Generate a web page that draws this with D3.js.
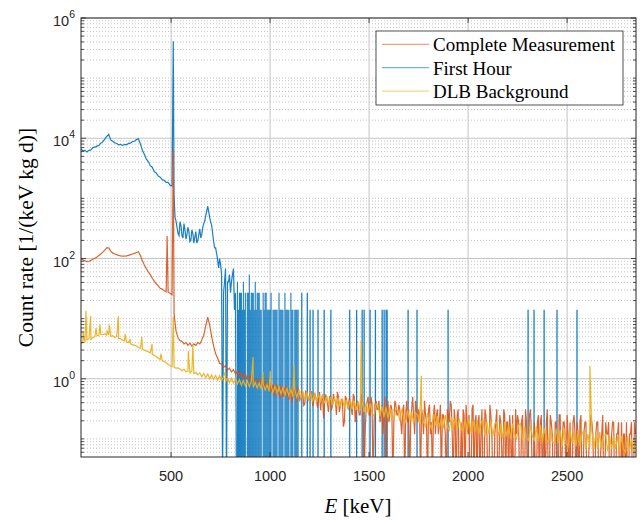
<!DOCTYPE html>
<html>
<head>
<meta charset="utf-8">
<script src="https://cdn.jsdelivr.net/npm/d3@7"></script>
<style>
  body { margin: 0; background: #fff; }
  svg { display: block; }
</style>
</head>
<body>
<svg width="640" height="520"></svg>
<script>
// Continuum values sit on 10 keV grids
const gridStep = 10;

// Complete Measurement, rate per bin, 45 .. 2845 keV
const completeStart = 45;
const completeRate = [
  98, 95, 92, 89, 90, 93, 97, 101, 106, 112,
  119, 128, 138, 150, 150, 133, 124, 119, 116, 113,
  111, 110, 110, 111, 113, 116, 119, 122, 126, 130,
  112, 92, 78, 68, 60, 54, 47, 42, 38, 35,
  32, 31, 29, 28, 27.5, 26.5, 25, 12, 6.2, 4.8,
  4.3, 4.2, 3.8, 4.0, 3.6, 3.9, 3.5, 3.8, 3.6, 4.0,
  3.8, 4.4, 5.3, 7.6, 10.6, 7.8, 5.0, 3.5, 2.6, 2.2,
  1.8, 1.75, 1.55, 1.65, 1.4, 1.5, 1.3, 1.42, 1.2, 1.35,
  1.1, 1.25, 1.0, 1.2, 0.95, 1.1, 0.9, 1.05, 0.85, 1.0,
  0.8, 0.95, 0.72, 0.9, 0.7, 0.85, 0.62, 0.8, 0.6, 0.78,
  0.55, 0.75, 0.5, 0.7, 0.58, 0.45, 0.72, 0.5, 0.62, 0.42,
  0.65, 0.48, 0.58, 0.38, 0.6, 0.45, 0.55, 0.35, 0.58, 0.42,
  0.5, 0.3, 0.55, 0.4, 0.48, 0.28, 0.52, 0.36, 0.45, 0.25,
  0.5, 0.35, 0.43, 0.19, 0.47, 0.31, 0.43, 0.25, 0.5, 0.31,
  0.37, 0.25, 0.43, 0, 0.31, 0.5, 0.25, 0.37, 0.19, 0.43,
  0.31, 0.19, 0.37, 0.25, 0, 0.43, 0.25, 0.31, 0.19, 0.37,
  0.25, 0.31, 0.12, 0.37, 0.25, 0.19, 0, 0.31, 0.25, 0.43,
  0.19, 0.25, 0.31, 0.12, 0.25, 0, 0.37, 0.19, 0.25, 0.12,
  0.31, 0.19, 0, 0.25, 0.12, 0.31, 0.19, 0.37, 0, 0.19,
  0.25, 0, 0.19, 0.31, 0, 0.19, 0.25, 0, 0.37, 0.19,
  0, 0.25, 0.12, 0, 0.31, 0.12, 0, 0.25, 0, 0.12,
  0.31, 0, 0.19, 0, 0.25, 0.19, 0, 0.12, 0.25, 0,
  0.12, 0.19, 0, 0.25, 0, 0.19, 0.062, 0.31, 0, 0.19,
  0, 0.25, 0.19, 0, 0.12, 0.19, 0, 0.25, 0.12, 0,
  0.19, 0, 0.25, 0.062, 0.19, 0, 0.12, 0.19, 0, 0.25,
  0, 0.12, 0.19, 0, 0.12, 0.19, 0, 0.12, 0.19, 0,
  0.12, 0.19, 0, 0.12, 0, 0.19, 0.12, 0, 0.12, 0.19,
  0, 0.12, 0, 0.19, 0.12, 0, 0, 0.12, 0.19, 0, 0.12
];
// Complete Measurement, bins in between, 1010 .. 2840 keV
const completeFineStart = 1010;
const completeFineRate = [
  0.68, 0.52, 0.8, 0.6, 0.47, 0.7, 0.55, 0.75, 0.5, 0.62,
  0.4, 0.66, 0.52, 0.7, 0.44, 0.6, 0.36, 0.62, 0.48, 0.55,
  0.62, 0.4, 0.5, 0.33, 0.6, 0.45, 0.22, 0.55, 0.38, 0.5,
  0.3, 0.56, 0.42, 0.6, 0.28, 0.45, 0.16, 0.52, 0.37, 0.48,
  0.31, 0.56, 0.19, 0.43,
  0.25, 0.56, 0.31, 0.12, 0.43, 0.25, 0.5, 0, 0.37, 0.31,
  0.43, 0.25, 0.12, 0.5, 0.31, 0.19, 0.37, 0, 0.43, 0.25,
  0.37, 0.19, 0.31, 0, 0.43, 0.31, 0.19, 0.5, 0.12, 0.31,
  0.31, 0, 0.25, 0.43, 0.19, 0.31, 0.12, 0, 0.37, 0.25,
  0.12, 0.37, 0.25, 0.19, 0, 0.25, 0.43, 0.12, 0.31, 0,
  0.31, 0, 0, 0.25, 0.37, 0.12, 0, 0.31, 0, 0.25,
  0.19, 0, 0.31, 0, 0.25, 0, 0.37, 0.12, 0, 0.19,
  0, 0.25, 0.062, 0.31, 0, 0.19, 0.25, 0, 0, 0.31,
  0.25, 0, 0.19, 0, 0.31, 0, 0.25, 0.12, 0, 0,
  0.19, 0, 0.25, 0.12, 0, 0.31, 0, 0.19, 0, 0.19,
  0, 0.25, 0, 0.19, 0.12, 0.25, 0, 0, 0.19, 0.12,
  0.19, 0, 0.25, 0, 0.19, 0, 0.062, 0.25, 0.12, 0,
  0.19, 0, 0.062, 0.25, 0, 0.12, 0.19, 0, 0.19, 0,
  0.12, 0.19, 0, 0, 0.12, 0.19, 0, 0.12, 0, 0.19
];
const completeLineE = [480, 511];
const completeLineV = [236, 6300];

// First Hour, rate per bin, 45 .. 1135 keV
const firstHourStart = 45;
const firstHourRate = [
  6600, 6200, 6300, 5900, 6300, 6400, 7000, 7100, 7400, 7600,
  8300, 8700, 9700, 10700, 11600, 9400, 8900, 8400, 8200, 7800,
  7900, 7600, 7900, 7800, 8200, 8300, 8800, 8900, 9500, 9800,
  8100, 6300, 5400, 4500, 4100, 3500, 3300, 2800, 2650, 2350,
  2250, 2050, 2000, 1850, 1850, 1650, 1600, 1100, 420, 260,
  410, 240, 380, 210, 330, 190, 300, 180, 280, 200,
  310, 250, 380, 520, 740, 480, 360, 190, 150, 95,
  100, 54, 27, 68, 41, 54, 41, 68, 27, 41,
  27, 27, 41, 27, 27, 54, 27, 27, 41, 27,
  27, 14, 27, 27, 14, 14, 27, 14, 14, 14,
  27, 14, 14, 27, 14, 14, 27, 14, 14, 14
];
// First Hour, bins in between, 520 .. 1130 keV
const firstHourFineStart = 520;
const firstHourFineRate = [
  480, 330, 240, 350, 220, 300, 250, 280, 200, 260,
  230, 180, 250, 220, 330, 420, 620, 600, 400, 260,
  150, 120, 70, 80, 0, 41, 0, 41, 27, 54,
  14, 0, 14, 27, 14, 14, 0, 27, 14, 27,
  14, 14, 27, 14, 0, 14, 27, 14, 14, 0,
  14, 14, 0, 14, 14, 0, 14, 14, 0, 14,
  0, 14
];
const firstHourLineE = [511];
const firstHourLineV = [410000];
// First Hour single counts above 1130 keV
const firstHourTailE = [
  1141, 1160, 1188, 1202, 1217, 1242, 1273, 1307, 1402, 1437, 1465, 1475, 1505,
  1532, 1566, 1576, 1586, 1591, 1697, 1742, 1899, 2303, 2333, 2384, 2449, 2550
];
const firstHourTailV = [
  14, 27, 27, 14, 14, 14, 14, 14, 14, 14, 14, 14, 14,
  14, 14, 14, 14, 14, 14, 14, 14, 14, 14, 14, 14, 14
];

// DLB Background, rate per bin, 45 .. 2845 keV
const dlbStart = 45;
const dlbRate = [
  3.8, 4.2, 4.0, 4.4, 4.6, 4.5, 4.9, 5.0, 5.3, 5.2,
  5.5, 5.4, 5.6, 5.3, 5.4, 5.1, 5.2, 4.9, 5.0, 4.7,
  4.6, 4.4, 4.3, 4.1, 4.0, 3.8, 3.7, 3.6, 3.5, 3.3,
  3.2, 3.1, 3.0, 2.9, 2.8, 2.7, 2.55, 2.45, 2.35, 2.2,
  2.1, 2.0, 1.95, 1.85, 1.75, 1.65, 1.6, 1.55, 1.5, 1.52,
  1.45, 1.36, 1.44, 1.31, 1.34, 1.25, 1.33, 1.22, 1.28, 1.16,
  1.25, 1.08, 1.22, 1.04, 1.2, 1.0, 1.15, 0.98, 1.14, 0.95,
  1.12, 0.93, 1.1, 0.88, 1.05, 0.86, 1.02, 0.84, 0.98, 0.82,
  0.97, 0.78, 0.94, 0.76, 0.92, 0.74, 0.9, 0.72, 0.87, 0.7,
  0.85, 0.67, 0.82, 0.65, 0.8, 0.62, 0.77, 0.6, 0.75, 0.58,
  0.73, 0.56, 0.71, 0.54, 0.69, 0.52, 0.67, 0.5, 0.65, 0.49,
  0.63, 0.47, 0.61, 0.46, 0.6, 0.44, 0.58, 0.43, 0.56, 0.42,
  0.55, 0.4, 0.53, 0.39, 0.52, 0.38, 0.5, 0.36, 0.49, 0.35,
  0.48, 0.34, 0.47, 0.33, 0.45, 0.32, 0.44, 0.31, 0.43, 0.3,
  0.42, 0.29, 0.41, 0.28, 0.4, 0.27, 0.39, 0.27, 0.24, 0.38,
  0.36, 0.24, 0.35, 0.23, 0.34, 0.22, 0.33, 0.26, 0.21, 0.32,
  0.3, 0.2, 0.31, 0.22, 0.19, 0.3, 0.2, 0.28, 0.18, 0.27,
  0.25, 0.18, 0.28, 0.19, 0.16, 0.27, 0.18, 0.15, 0.26, 0.17,
  0.24, 0.15, 0.23, 0.15, 0.25, 0.16, 0.14, 0.23, 0.15, 0.22,
  0.14, 0.22, 0.15, 0.13, 0.21, 0.14, 0.22, 0.12, 0.2, 0.13,
  0.2, 0.12, 0.18, 0.21, 0.11, 0.19, 0.12, 0.2, 0.11, 0.18,
  0.19, 0.11, 0.18, 0.1, 0.19, 0.11, 0.17, 0.1, 0.18, 0.12,
  0.1, 0.17, 0.18, 0.095, 0.16, 0.1, 0.095, 0.17, 0.11, 0.095,
  0.16, 0.09, 0.17, 0.085, 0.15, 0.1, 0.085, 0.16, 0.09, 0.085,
  0.15, 0.085, 0.14, 0.075, 0.15, 0.085, 0.075, 0.14, 0.085, 0.13,
  0.075, 0.14, 0.075, 0.12, 0.14, 0.068, 0.12, 0.075, 0.13, 0.068,
  0.12, 0.068, 0.13, 0.068, 0.11, 0.12, 0.062, 0.11, 0.068, 0.11,
  0.068, 0.11, 0.06, 0.11, 0.068, 0.06, 0.11, 0.062, 0.1, 0.06, 0.095
];
// DLB Background gamma lines
const dlbLineE = [55, 70, 94, 121, 141, 177, 188, 234, 268, 293, 352, 404, 449,
  511, 587, 610, 773, 914, 964, 1001, 1120, 1460, 1764, 2615];
const dlbLineV = [6.0, 13.5, 11, 7, 8, 6.2, 8, 11, 5.6, 4.6, 5, 3.8, 2.6,
  10.8, 2.9, 3.7, 1.3, 2.3, 1.3, 1.35, 1.65, 4.4, 1.12, 1.64];

const xTicks = [500, 1000, 1500, 2000, 2500];
const yTicks = [1, 1e2, 1e4, 1e6];
const seriesNames = ['Complete Measurement', 'First Hour', 'DLB Background'];
const seriesColors = ['#D95319', '#0072BD', '#EDB120'];

const svg = d3.select('svg');
const margin = {top: 18, right: 4, bottom: 63, left: 81};
const width = +svg.attr('width') - margin.left - margin.right;
const height = +svg.attr('height') - margin.top - margin.bottom;

const x = d3.scaleLinear().domain([45, 2848]).range([0, width]);
const y = d3.scaleLog().domain([0.05, 1e6]).range([height, 0]);

const chart = svg.append('g')
    .attr('transform', `translate(${margin.left},${margin.top})`);

// Grid: dotted minor lines, solid major lines
const isMajor = v => yTicks.some(t => Math.abs(v - t) / t < 1e-6);
const allY = y.ticks().filter(v => v > 0.05 * 1.001);
const minorY = allY.filter(v => !isMajor(v));

chart.append('g').selectAll('line').data(minorY)
  .join('line')
    .attr('x1', 0).attr('x2', width)
    .attr('y1', d => y(d)).attr('y2', d => y(d))
    .attr('stroke', '#ababab')
    .attr('stroke-width', 0.7)
    .attr('stroke-dasharray', '1,2');

chart.append('g').selectAll('line').data(yTicks)
  .join('line')
    .attr('x1', 0).attr('x2', width)
    .attr('y1', d => y(d)).attr('y2', d => y(d))
    .attr('stroke', '#c4c4c4')
    .attr('stroke-width', 1);

chart.append('g').selectAll('line').data(xTicks)
  .join('line')
    .attr('x1', d => x(d)).attr('x2', d => x(d))
    .attr('y1', 0).attr('y2', height)
    .attr('stroke', '#c4c4c4')
    .attr('stroke-width', 1);

// Series
svg.append('defs').append('clipPath').attr('id', 'plot-clip')
  .append('rect').attr('width', width).attr('height', height);

const toPoints = (segments, lineE, lineV) => segments
  .flatMap(([start, rates]) => rates.map((v, i) => ({e: start + i * gridStep, v})))
  .concat(lineE.map((e, i) => ({e, v: lineV[i]})))
  .sort((a, b) => a.e - b.e);

// Zero counts fall below the log axis
const floorY = height + 30;
const yPos = v => v > 0 ? y(v) : floorY;

const line = d3.line()
  .x(d => x(d.e))
  .y(d => yPos(d.v));

const plot = chart.append('g').attr('clip-path', 'url(#plot-clip)');

// First Hour: line up to 830 keV, then single-bin stems (empty bins in between)
const stemFrom = 835;
const firstHour = toPoints([[firstHourStart, firstHourRate], [firstHourFineStart, firstHourFineRate]],
  firstHourLineE, firstHourLineV);
const firstHourStems = firstHour.filter(d => d.e >= stemFrom)
  .concat(firstHourTailE.map((e, i) => ({e, v: firstHourTailV[i]})))
  .filter(d => d.v > 0);

plot.append('path')
    .datum(firstHour.filter(d => d.e < stemFrom))
    .attr('d', line)
    .attr('fill', 'none')
    .attr('stroke', seriesColors[1])
    .attr('stroke-width', 1.2)
    .attr('stroke-opacity', 0.9);

plot.append('g').selectAll('line').data(firstHourStems)
  .join('line')
    .attr('x1', d => x(d.e)).attr('x2', d => x(d.e))
    .attr('y1', floorY)
    .attr('y2', d => y(d.v))
    .attr('stroke', seriesColors[1])
    .attr('stroke-width', d => d.e > 1135 ? 1.3 : 1.1)
    .attr('stroke-opacity', 0.9);

plot.append('path')
    .datum(toPoints([[completeStart, completeRate], [completeFineStart, completeFineRate]],
      completeLineE, completeLineV))
    .attr('d', line)
    .attr('fill', 'none')
    .attr('stroke', seriesColors[0])
    .attr('stroke-width', 1.2)
    .attr('stroke-opacity', 0.9);

plot.append('path')
    .datum(toPoints([[dlbStart, dlbRate]], dlbLineE, dlbLineV))
    .attr('d', line)
    .attr('fill', 'none')
    .attr('stroke', seriesColors[2])
    .attr('stroke-width', 1.2)
    .attr('stroke-opacity', 0.95);

// Axes box and inward ticks
const axisColor = '#262626';
chart.append('rect')
    .attr('width', width).attr('height', height)
    .attr('fill', 'none')
    .attr('stroke', axisColor)
    .attr('stroke-width', 1);

const ticks = chart.append('g').attr('stroke', axisColor).attr('stroke-width', 0.8);
xTicks.forEach(t => {
  ticks.append('line').attr('x1', x(t)).attr('x2', x(t)).attr('y1', height).attr('y2', height - 5);
  ticks.append('line').attr('x1', x(t)).attr('x2', x(t)).attr('y1', 0).attr('y2', 5);
});
allY.forEach(t => {
  const len = isMajor(t) ? 5 : 3;
  ticks.append('line').attr('x1', 0).attr('x2', len).attr('y1', y(t)).attr('y2', y(t));
  ticks.append('line').attr('x1', width).attr('x2', width - len).attr('y1', y(t)).attr('y2', y(t));
});

// Tick labels
const labelFont = '"Liberation Sans", Arial, Helvetica, sans-serif';
chart.append('g').selectAll('text').data(xTicks)
  .join('text')
    .attr('x', d => x(d))
    .attr('y', height + 24)
    .attr('text-anchor', 'middle')
    .attr('font-family', labelFont)
    .attr('font-size', 14.5)
    .attr('fill', axisColor)
    .text(d => d);

const yLabels = chart.append('g').selectAll('text').data(yTicks)
  .join('text')
    .attr('x', -6)
    .attr('y', d => y(d) + 8)
    .attr('text-anchor', 'end')
    .attr('font-family', labelFont)
    .attr('font-size', 14.5)
    .attr('fill', axisColor);
yLabels.append('tspan').text('10');
yLabels.append('tspan')
    .attr('dy', -8)
    .attr('font-size', 10.5)
    .text(d => Math.round(Math.log10(d)));

// Axis titles
const titleFont = '"Liberation Serif", "Times New Roman", serif';
const xTitle = chart.append('text')
    .attr('x', 277)
    .attr('y', height + 56)
    .attr('text-anchor', 'middle')
    .attr('font-family', titleFont)
    .attr('font-size', 21)
    .attr('fill', '#000');
xTitle.append('tspan').attr('font-style', 'italic').text('E');
xTitle.append('tspan').text(' [keV]');

chart.append('text')
    .attr('transform', `translate(${33 - margin.left},${height / 2}) rotate(-90)`)
    .attr('text-anchor', 'middle')
    .attr('font-family', titleFont)
    .attr('font-size', 21.5)
    .attr('fill', '#000')
    .text('Count rate [1/(keV kg d)]');

// Legend
const legend = svg.append('g').attr('transform', 'translate(376,31)');
legend.append('rect')
    .attr('width', 247).attr('height', 74)
    .attr('fill', '#fff')
    .attr('stroke', axisColor)
    .attr('stroke-width', 0.8);

const entries = legend.selectAll('g.entry').data(seriesNames)
  .join('g')
    .attr('class', 'entry')
    .attr('transform', (d, i) => `translate(0,${13.3 + i * 23.4})`);
entries.append('line')
    .attr('x1', 6).attr('x2', 53)
    .attr('stroke', (d, i) => seriesColors[i])
    .attr('stroke-width', 0.9)
    .attr('stroke-opacity', 0.75);
entries.append('text')
    .attr('x', 57)
    .attr('y', 6.8)
    .attr('font-family', titleFont)
    .attr('font-size', 19)
    .attr('fill', '#000')
    .text(d => d);
</script>
</body>
</html>
